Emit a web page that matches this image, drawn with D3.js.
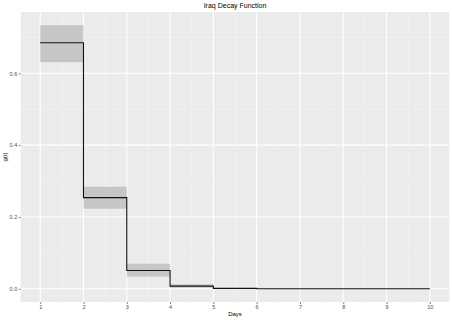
<!DOCTYPE html>
<html><head><meta charset="utf-8">
<script src="https://cdn.jsdelivr.net/npm/d3@7"></script>
<style>body{margin:0;background:#fff;}svg{display:block;font-family:"Liberation Sans",Arial,sans-serif;}</style>
</head><body><svg id="c" width="452" height="320"></svg>
<script>
const days = [1,2,3,4,5,6,7,8,9,10];
const gValues = [0.685,0.254,0.051,0.0075,0.0012,0.0002,0,0,0,0];
const lower = [0.631,0.223,0.034,0.003,0.0003,0,0,0,0,0];
const upper = [0.734,0.284,0.070,0.013,0.002,0.0005,0,0,0,0];
const xTicks = [1,2,3,4,5,6,7,8,9,10];
const yTicks = [0.0,0.2,0.4,0.6];
const yMinor = [0.1,0.3,0.5,0.7];
const xMinor = [0.5,1.5,2.5,3.5,4.5,5.5,6.5,7.5,8.5,9.5,10.5];
const title = "Iraq Decay Function", xLabel = "Days", yLabel = "g(t)";

const svg = d3.select("#c");
const P = {l:20.7, r:449.3, t:12, b:302};
const xr = [1,10], xe = (xr[1]-xr[0])*0.05;
const ymax = d3.max(upper), ymin = 0, ye = (ymax-ymin)*0.05;
const x = d3.scaleLinear().domain([xr[0]-xe, xr[1]+xe]).range([P.l,P.r]);
const y = d3.scaleLinear().domain([ymin-ye, ymax+ye]).range([P.b,P.t]);

svg.append("rect").attr("x",P.l).attr("y",P.t).attr("width",P.r-P.l).attr("height",P.b-P.t).attr("fill","#ebebeb");
const g = svg.append("g");
g.selectAll(".xm").data(xMinor.filter(v=>x(v)>P.l&&x(v)<P.r)).join("line").attr("x1",d=>x(d)).attr("x2",d=>x(d)).attr("y1",P.t).attr("y2",P.b).attr("stroke","#f5f5f5").attr("stroke-width",0.6);
g.selectAll(".ym").data(yMinor).join("line").attr("class","ym").attr("y1",d=>y(d)).attr("y2",d=>y(d)).attr("x1",P.l).attr("x2",P.r).attr("stroke","#f5f5f5").attr("stroke-width",0.6);
g.selectAll(".xM").data(xTicks).join("line").attr("class","xM").attr("x1",d=>x(d)).attr("x2",d=>x(d)).attr("y1",P.t).attr("y2",P.b).attr("stroke","#fff").attr("stroke-width",1.1);
g.selectAll(".yM").data(yTicks).join("line").attr("class","yM").attr("y1",d=>y(d)).attr("y2",d=>y(d)).attr("x1",P.l).attr("x2",P.r).attr("stroke","#fff").attr("stroke-width",1.1);

// ribbon
const rib = days.slice(0,-1).map((d,i)=>({x0:d,x1:days[i+1],lo:lower[i],hi:upper[i]}));
svg.selectAll(".rib").data(rib).join("rect").attr("class","rib")
  .attr("x",d=>x(d.x0)).attr("width",d=>x(d.x1)-x(d.x0))
  .attr("y",d=>y(d.hi)).attr("height",d=>Math.max(0,y(d.lo)-y(d.hi)))
  .attr("fill","#999").attr("fill-opacity",0.45);

// step line
const pts = days.map((d,i)=>[d,gValues[i]]);
const line = d3.line().x(d=>x(d[0])).y(d=>y(d[1])).curve(d3.curveStepAfter);
svg.append("path").attr("d",line(pts)).attr("fill","none").attr("stroke","#111").attr("stroke-width",1.1);

// axes
const xa = svg.append("g").attr("transform",`translate(0,${P.b})`).call(d3.axisBottom(x).tickValues(xTicks).tickFormat(d3.format("d")).tickSize(2).tickPadding(1.5));
const ya = svg.append("g").attr("transform",`translate(${P.l},0)`).call(d3.axisLeft(y).tickValues(yTicks).tickFormat(d3.format(".1f")).tickSize(2).tickPadding(1.5));
[xa,ya].forEach(a=>{a.select(".domain").remove();a.selectAll(".tick line").attr("stroke","#333").attr("stroke-width",0.6);a.selectAll("text").attr("fill","#4d4d4d").attr("font-size",5.5).attr("font-family","Liberation Sans, Arial, sans-serif");});

svg.append("text").attr("x",(P.l+P.r)/2).attr("y",8).attr("text-anchor","middle").attr("font-size",7).attr("fill","#000").text(title);
svg.append("text").attr("x",(P.l+P.r)/2).attr("y",316).attr("text-anchor","middle").attr("font-size",6).attr("fill","#000").text(xLabel);
svg.append("text").attr("transform",`translate(7,${(P.t+P.b)/2}) rotate(-90)`).attr("text-anchor","middle").attr("font-size",6).attr("fill","#000").text(yLabel);
</script></body></html>
